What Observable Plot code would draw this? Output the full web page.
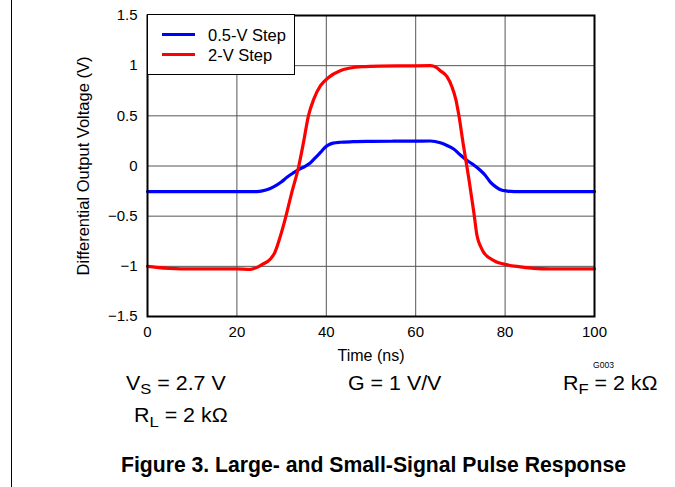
<!DOCTYPE html>
<html><head><meta charset="utf-8">
<script src="https://cdn.jsdelivr.net/npm/d3@7"></script>
<script src="https://cdn.jsdelivr.net/npm/@observablehq/plot@0.6"></script>
<style>
body{margin:0;background:#fff;font-family:"Liberation Sans",Arial,sans-serif;}
#wrap{position:relative;width:675px;height:487px;overflow:hidden;background:#fff;}
#chart{position:absolute;left:0;top:0;}
.abs{position:absolute;white-space:nowrap;line-height:1;color:#000;}
.ann{font-size:20px;transform:scaleX(1.07);transform-origin:0 0;}
.sub{font-size:15.5px;position:relative;top:4.5px;}
</style></head><body>
<div id="wrap">
<div id="chart"></div>
<div class="abs" style="left:11px;top:0;width:1px;height:487px;background:#000;"></div>
<div id="legend"></div>
<div class="abs ann" style="left:126px;top:372.6px;">V<span class="sub">S</span> = 2.7 V</div>
<div class="abs ann" style="left:348px;top:372.6px;">G = 1 V/V</div>
<div class="abs ann" style="left:563px;top:372.6px;">R<span class="sub">F</span> = 2 kΩ</div>
<div class="abs ann" style="left:134px;top:405.4px;">R<span class="sub">L</span> = 2 kΩ</div>
<div class="abs" style="left:73.5px;width:600px;text-align:center;top:453.5px;font-size:21.2px;font-weight:bold;">Figure 3. Large- and Small-Signal Pulse Response</div>
</div>
<script>
// Series: 0.5-V step (blue)
const time05 = [0,10,20,24.5,26.5,28.2,30,31.2,32.5,33.8,35,36.4,37.5,38.7,39.7,40.5,41.5,43.1,46,50,55,60,63.3,65.5,67,68.5,70,71.5,73,74.5,75.5,76.7,78,79,80.5,82,90,100];
const volt05 = [-0.255,-0.255,-0.255,-0.255,-0.24,-0.208,-0.157,-0.112,-0.072,-0.036,-0.01,0.03,0.08,0.135,0.185,0.21,0.228,0.237,0.242,0.245,0.247,0.248,0.249,0.232,0.205,0.17,0.11,0.055,0.01,-0.045,-0.09,-0.16,-0.21,-0.236,-0.25,-0.255,-0.255,-0.255];
// Series: 2-V step (red)
const time2 = [0,2,5,10,15,20,23,24.5,25.5,27.5,28.5,29.3,30.8,32.3,33.8,34.9,36,37.2,38.7,40.5,43.1,45.4,48,52,58,63.3,64.5,65.5,67,68.1,69,69.6,70.7,71.9,73,73.7,74.5,75.2,77.5,80.5,83.4,86.4,90,100];
const volt2 = [-1.0,-1.01,-1.02,-1.025,-1.025,-1.025,-1.03,-1.01,-0.985,-0.926,-0.86,-0.76,-0.53,-0.26,-0.01,0.235,0.5,0.667,0.8,0.883,0.95,0.977,0.99,0.996,0.998,1.0,0.985,0.95,0.89,0.79,0.66,0.52,0.2,-0.13,-0.46,-0.69,-0.8,-0.86,-0.943,-0.986,-1.005,-1.02,-1.025,-1.025];

const seriesNames = ["0.5-V Step", "2-V Step"];
const seriesColors = ["#0000ff", "#ff0000"];
const xTicks = [0, 20, 40, 60, 80, 100];
const yTicks = [-1.5, -1, -0.5, 0, 0.5, 1, 1.5];
const yTickLabels = ["−1.5", "−1", "−0.5", "0", "0.5", "1", "1.5"];
const xLabel = "Time (ns)";
const yLabel = "Differential Output Voltage (V)";
const figId = "G003";

const rows = [
  ...time05.map((t, i) => ({t, v: volt05[i], series: seriesNames[0]})),
  ...time2.map((t, i) => ({t, v: volt2[i], series: seriesNames[1]}))
];

const font = '"Liberation Sans", Arial, sans-serif';
const plot = Plot.plot({
  width: 675, height: 370,
  marginLeft: 147, marginRight: 81, marginTop: 15, marginBottom: 54,
  style: {fontFamily: font, fontSize: "15px", color: "#000", background: "transparent", overflow: "visible"},
  x: {domain: [0, 100]},
  y: {domain: [-1.5, 1.5]},
  color: {domain: seriesNames, range: seriesColors},
  marks: [
    Plot.gridX(xTicks, {stroke: "#555", strokeOpacity: 1, strokeWidth: 1}),
    Plot.gridY(yTicks, {stroke: "#555", strokeOpacity: 1, strokeWidth: 1}),
    Plot.line(rows, {x: "t", y: "v", z: "series", stroke: "series", strokeWidth: 3.2, curve: "monotone-x"}),
    Plot.frame({stroke: "#000", strokeWidth: 2}),
    Plot.axisX(xTicks, {tickSize: 0, tickPadding: 10, fontSize: 15, label: null}),
    Plot.axisY(yTicks, {tickSize: 0, tickPadding: 10, fontSize: 15, label: null, tickFormat: d => yTickLabels[yTicks.indexOf(d)]}),
    Plot.text([yLabel], {text: d => d, frameAnchor: "left", textAnchor: "middle", lineAnchor: "middle", rotate: -90, dx: -64, fontSize: 16.5}),
    Plot.text([xLabel], {text: d => d, frameAnchor: "bottom", textAnchor: "middle", dy: 39.5, lineAnchor: "middle", fontSize: 16}),
    Plot.text([figId], {text: d => d, frameAnchor: "bottom-right", textAnchor: "middle", dx: 9, dy: 48.5, lineAnchor: "middle", fontSize: 8.5})
  ]
});
document.getElementById("chart").appendChild(plot);

// Legend (HTML overlay, built from the series arrays)
const lg = document.getElementById("legend");
const box = document.createElement("div");
box.className = "abs";
box.style.cssText = "left:147px;top:14px;width:148px;height:61px;box-sizing:border-box;border:1.5px solid #000;background:#fff;";
lg.appendChild(box);
seriesNames.forEach((name, i) => {
  const ln = document.createElement("div");
  ln.className = "abs";
  ln.style.cssText = `left:162px;top:${32.8 + i * 20}px;width:33px;height:3.2px;background:${seriesColors[i]};`;
  lg.appendChild(ln);
  const tx = document.createElement("div");
  tx.className = "abs";
  tx.style.cssText = `left:208px;top:${26.7 + i * 20}px;font-size:16.5px;`;
  tx.textContent = name;
  lg.appendChild(tx);
});
</script>
</body></html>
